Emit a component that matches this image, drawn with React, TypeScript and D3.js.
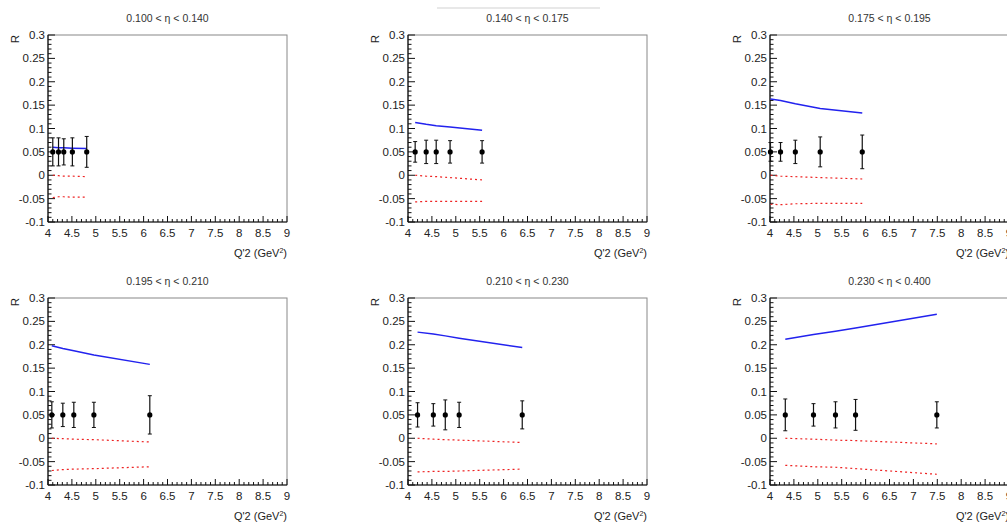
import React from "react";
import * as d3 from "d3";

const etaBins = [
  "0.100 < η < 0.140",
  "0.140 < η < 0.175",
  "0.175 < η < 0.195",
  "0.195 < η < 0.210",
  "0.210 < η < 0.230",
  "0.230 < η < 0.400",
];
const q2Points = [
  [4.1, 4.22, 4.33, 4.51, 4.81],
  [4.15, 4.38, 4.59, 4.88, 5.55],
  [4.01, 4.22, 4.53, 5.05, 5.93],
  [4.08, 4.31, 4.54, 4.96, 6.13],
  [4.2, 4.53, 4.78, 5.07, 6.39],
  [4.32, 4.91, 5.37, 5.79, 7.49],
];
const rValues = [
  [0.05, 0.05, 0.05, 0.05, 0.05],
  [0.05, 0.05, 0.05, 0.05, 0.05],
  [0.05, 0.05, 0.05, 0.05, 0.05],
  [0.05, 0.05, 0.05, 0.05, 0.05],
  [0.05, 0.05, 0.05, 0.05, 0.05],
  [0.05, 0.05, 0.05, 0.05, 0.05],
];
const rErrors = [
  [0.03, 0.03, 0.028, 0.03, 0.033],
  [0.022, 0.025, 0.025, 0.024, 0.024],
  [0.02, 0.02, 0.025, 0.032, 0.036],
  [0.028, 0.025, 0.027, 0.027, 0.041],
  [0.026, 0.024, 0.032, 0.027, 0.03],
  [0.034, 0.024, 0.028, 0.033, 0.028],
];
const blueR = [
  [0.06, 0.059, 0.059, 0.058, 0.057],
  [0.113, 0.109, 0.106, 0.103, 0.096],
  [0.163, 0.16, 0.153, 0.143, 0.133],
  [0.198, 0.192, 0.187, 0.178, 0.158],
  [0.227, 0.223, 0.219, 0.214, 0.194],
  [0.212, 0.222, 0.229, 0.236, 0.265],
];
const redUpperR = [
  [0.0, -0.001, -0.002, -0.002, -0.003],
  [0.0, -0.002, -0.003, -0.005, -0.01],
  [0.0, -0.002, -0.003, -0.005, -0.008],
  [0.0, -0.001, -0.002, -0.003, -0.008],
  [0.0, -0.002, -0.003, -0.004, -0.009],
  [0.0, -0.002, -0.004, -0.005, -0.012],
];
const redLowerR = [
  [-0.048, -0.046, -0.046, -0.047, -0.047],
  [-0.057, -0.056, -0.056, -0.056, -0.056],
  [-0.062, -0.063, -0.061, -0.06, -0.06],
  [-0.069, -0.067, -0.066, -0.065, -0.061],
  [-0.072, -0.071, -0.071, -0.07, -0.066],
  [-0.058, -0.061, -0.062, -0.065, -0.077],
];
const xTickLabels = ["4", "4.5", "5", "5.5", "6", "6.5", "7", "7.5", "8", "8.5", "9"];
const yTickLabels = ["-0.1", "-0.05", "0", "0.05", "0.1", "0.15", "0.2", "0.25", "0.3"];

const colLefts = [48, 408, 770];
const rowTops = [35, 298];
const W = 239;
const H = 187;
const FONT = "Liberation Sans, Arial, Helvetica, sans-serif";

function Panel({ idx }: { idx: number }) {
  const left = colLefts[idx % 3];
  const top = rowTops[Math.floor(idx / 3)];
  const x = d3.scaleLinear().domain([4, 9]).range([left, left + W]);
  const y = d3.scaleLinear().domain([-0.1, 0.3]).range([top + H, top]);
  const xs = q2Points[idx];
  const line = d3
    .line<[number, number]>()
    .x((d) => x(d[0]))
    .y((d) => y(d[1]));
  const blue = xs.map((q, i) => [q, blueR[idx][i]] as [number, number]);
  const ru = xs.map((q, i) => [q, redUpperR[idx][i]] as [number, number]);
  const rl = xs.map((q, i) => [q, redLowerR[idx][i]] as [number, number]);
  const xMinor = d3.range(0, 51).map((i) => 4 + i * 0.1);
  const yMinor = d3.range(0, 41).map((i) => -0.1 + i * 0.01);
  const bottom = top + H;
  return (
    <g>
      <text x={left + W / 2} y={top - 13.5} fontSize={10.5} textAnchor="middle" fontFamily={FONT} fill="#333">
        {etaBins[idx]}
      </text>
      <rect x={left} y={top} width={W} height={H} fill="none" stroke="#888" strokeWidth={1} />
      {xMinor.map((v, i) => (
        <line key={"xm" + i} x1={x(v)} x2={x(v)} y1={bottom} y2={bottom - (i % 5 === 0 ? 6 : 3)} stroke="#111" strokeWidth={1} />
      ))}
      {yMinor.map((v, i) => (
        <line key={"ym" + i} x1={left} x2={left + (i % 5 === 0 ? 7 : 3.5)} y1={y(v)} y2={y(v)} stroke="#111" strokeWidth={1} />
      ))}
      <line x1={left} x2={left + W} y1={bottom} y2={bottom} stroke="#111" strokeWidth={1.2} />
      <line x1={left} x2={left} y1={top} y2={bottom} stroke="#111" strokeWidth={1.2} />
      {xTickLabels.map((t) => (
        <text key={"xt" + t} x={x(+t)} y={bottom + 15} fontSize={11.5} textAnchor="middle" fontFamily={FONT} fill="#222">
          {t}
        </text>
      ))}
      {yTickLabels.map((t) => (
        <text key={"yt" + t} x={left - 3} y={y(+t) + 4} fontSize={11.5} textAnchor="end" fontFamily={FONT} fill="#222">
          {t}
        </text>
      ))}
      <text
        transform={`translate(${left - 29},${top}) rotate(-90)`}
        fontSize={11.5}
        textAnchor="end"
        fontFamily={FONT}
        fill="#222"
      >
        R
      </text>
      <text x={left + W} y={bottom + 35} fontSize={11} textAnchor="end" fontFamily={FONT} fill="#222">
        Q'2 (GeV
        <tspan dy={-4} fontSize={7}>2</tspan>
        <tspan dy={4}>)</tspan>
      </text>
      <path d={line(blue) || ""} fill="none" stroke="#2222ee" strokeWidth={1.5} />
      <path d={line(ru) || ""} fill="none" stroke="#ee2222" strokeWidth={1.2} strokeDasharray="2,3" />
      <path d={line(rl) || ""} fill="none" stroke="#ee2222" strokeWidth={1.2} strokeDasharray="2,3" />
      {xs.map((q, i) => {
        const v = rValues[idx][i];
        const e = rErrors[idx][i];
        return (
          <g key={"p" + i}>
            <line x1={x(q)} x2={x(q)} y1={y(v - e)} y2={y(v + e)} stroke="#111" strokeWidth={1.2} />
            <line x1={x(q) - 2} x2={x(q) + 2} y1={y(v - e)} y2={y(v - e)} stroke="#111" strokeWidth={1} />
            <line x1={x(q) - 2} x2={x(q) + 2} y1={y(v + e)} y2={y(v + e)} stroke="#111" strokeWidth={1} />
            <circle cx={x(q)} cy={y(v)} r={2.6} fill="#000" />
          </g>
        );
      })}
    </g>
  );
}

export default function App() {
  return (
    <svg
      width={1007}
      height={524}
      style={{ position: "absolute", left: 0, top: 0, background: "#fff" }}
    >
      <rect x={0} y={0} width={1007} height={524} fill="#fff" />
      <line x1={437} x2={600} y1={8} y2={8} stroke="#e8e8e8" strokeWidth={2} />
      {etaBins.map((_, i) => (
        <Panel key={i} idx={i} />
      ))}
    </svg>
  );
}
